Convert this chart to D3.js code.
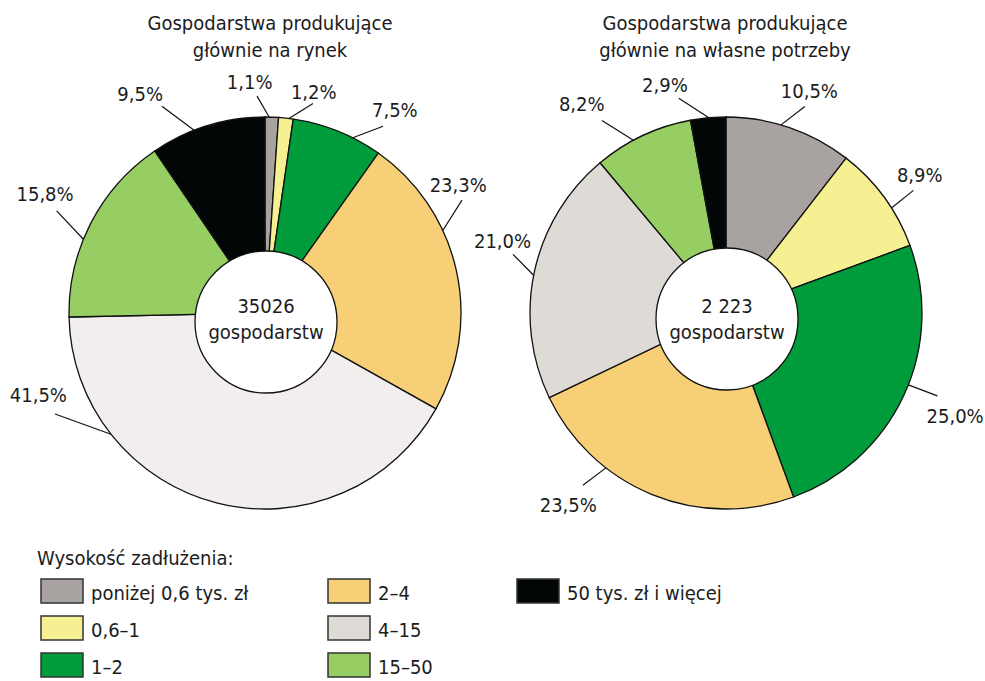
<!DOCTYPE html>
<html>
<head>
<meta charset="utf-8">
<script src="https://cdn.jsdelivr.net/npm/d3@7"></script>
<style>
  body { margin: 0; background: #fff; }
  svg text { font-family: "Liberation Sans Narrow", "Arial Narrow", "DejaVu Sans Condensed", sans-serif; fill: #1c1c1c; }
</style>
</head>
<body>
<svg id="chart" width="985" height="681"></svg>
<script>
// categories (debt level) and their colours
const categories = ["poniżej 0,6 tys. zł", "0,6–1", "1–2", "2–4", "4–15", "15–50", "50 tys. zł i więcej"];
const colors = ["#a8a2a1", "#f7f092", "#009b3a", "#f7cf77", "#dedbd7", "#96ce64", "#030606"];

// shares in % (clockwise from 12 o'clock)
const marketShares = [1.1, 1.2, 7.5, 23.3, 41.5, 15.8, 9.5];
const ownShares = [10.5, 8.9, 25.0, 23.5, 21.0, 8.2, 2.9];

const marketTitle = ["Gospodarstwa produkujące", "głównie na rynek"];
const ownTitle = ["Gospodarstwa produkujące", "głównie na własne potrzeby"];
const marketTotal = "35026";
const ownTotal = "2 223";
const centerUnit = "gospodarstw";
const legendTitle = "Wysokość zadłużenia:";

// label layout: [leader start angle, leader end angle, leader end radius, text angle, text radius]
const marketLabelLayout = [
  [1.2, -2.1, 217, -3.8, 232],
  [7.0, 12.9, 215, 12.4, 227],
  [26.6, 32.3, 221, 32.6, 241],
  [65.1, 60.2, 227, 56.4, 232],
  [231.8, 244.3, 233, 250.1, 241],
  [292.1, 296.1, 232, 298.4, 250],
  [338.8, 333.5, 231, 330.3, 252]
];
const ownLabelLayout = [
  [16.3, 20.9, 221, 20.6, 237],
  [57.6, 56.8, 224, 54.5, 238],
  [111.5, 111.4, 227, 114.1, 251],
  [217.8, 219.7, 224, 219.5, 248],
  [281.1, 285.4, 221, 288.0, 235],
  [331.8, 327.2, 229, 325.4, 254],
  [355.0, 347.6, 220, 345.0, 236]
];

const svg = d3.select('#chart');
const radius = 196;
const holeRadius = 71;

const pl = d3.formatLocale({ decimal: ",", thousands: " ", grouping: [3], currency: ["", " zł"] });
const fmt = v => pl.format(".1f")(v) + "%";

const pie = d3.pie().sort(null).value(d => d);
const arc = d3.arc().innerRadius(0).outerRadius(radius);

// polar helper, angle in degrees clockwise from top
const polar = (deg, r) => {
  const a = deg * Math.PI / 180;
  return [Math.sin(a) * r, -Math.cos(a) * r];
};

function drawPie(opts) {
  const g = svg.append('g').attr('transform', `translate(${opts.cx},${opts.cy})`);

  // title
  const title = svg.append('text')
    .attr('x', opts.titleX)
    .attr('y', 30)
    .attr('text-anchor', 'middle')
    .style('font-size', '20px');
  opts.title.forEach((t, i) => {
    title.append('tspan').attr('x', opts.titleX).attr('dy', i === 0 ? 0 : 27).text(t);
  });

  // slices
  g.selectAll('path.slice')
    .data(pie(opts.values))
    .enter()
    .append('path')
    .attr('class', 'slice')
    .attr('d', arc)
    .attr('fill', (d, i) => (i === 4 && opts.lightShade) ? opts.lightShade : colors[i])
    .attr('stroke', '#111')
    .attr('stroke-width', 1.3);

  // white hole with total
  g.append('circle')
    .attr('cx', opts.holeDx)
    .attr('cy', opts.holeDy)
    .attr('r', holeRadius)
    .attr('fill', '#fff')
    .attr('stroke', '#111')
    .attr('stroke-width', 1.3);

  g.append('text')
    .attr('x', opts.holeDx)
    .attr('y', 0)
    .attr('text-anchor', 'middle')
    .style('font-size', '20px')
    .text(opts.total);
  g.append('text')
    .attr('x', opts.holeDx)
    .attr('y', 26)
    .attr('text-anchor', 'middle')
    .style('font-size', '20px')
    .text(centerUnit);

  // leader lines
  g.selectAll('line.leader')
    .data(opts.layout)
    .enter()
    .append('line')
    .attr('class', 'leader')
    .attr('x1', d => polar(d[0], radius)[0])
    .attr('y1', d => polar(d[0], radius)[1])
    .attr('x2', d => polar(d[1], d[2])[0])
    .attr('y2', d => polar(d[1], d[2])[1])
    .attr('stroke', '#111')
    .attr('stroke-width', 1.2);

  // percentage labels
  g.selectAll('text.pct')
    .data(opts.values)
    .enter()
    .append('text')
    .attr('class', 'pct')
    .attr('x', (d, i) => polar(opts.layout[i][3], opts.layout[i][4])[0])
    .attr('y', (d, i) => polar(opts.layout[i][3], opts.layout[i][4])[1])
    .attr('dy', '0.36em')
    .attr('text-anchor', 'middle')
    .style('font-size', '20px')
    .text(d => fmt(d));
}

drawPie({
  cx: 265, cy: 313, titleX: 270, title: marketTitle, values: marketShares,
  total: marketTotal, layout: marketLabelLayout, holeDx: 1, holeDy: 9, lightShade: '#f1eeed'
});
drawPie({
  cx: 726, cy: 313, titleX: 725, title: ownTitle, values: ownShares,
  total: ownTotal, layout: ownLabelLayout, holeDx: 1, holeDy: 6
});

// legend
const legendColX = [41, 328, 517];
const legendRowY = [579, 616, 653];
const legend = svg.append('g');
legend.append('text')
  .attr('x', 37)
  .attr('y', 565)
  .style('font-size', '20px')
  .text(legendTitle);

const item = legend.selectAll('g.item')
  .data(categories)
  .enter()
  .append('g')
  .attr('class', 'item')
  .attr('transform', (d, i) => `translate(${legendColX[Math.floor(i / 3)]},${legendRowY[i % 3]})`);

item.append('rect')
  .attr('width', 42)
  .attr('height', 24)
  .attr('fill', (d, i) => colors[i])
  .attr('stroke', '#333')
  .attr('stroke-width', 1.5);

item.append('text')
  .attr('x', 50)
  .attr('y', 21)
  .style('font-size', '20px')
  .text(d => d);
</script>
</body>
</html>
